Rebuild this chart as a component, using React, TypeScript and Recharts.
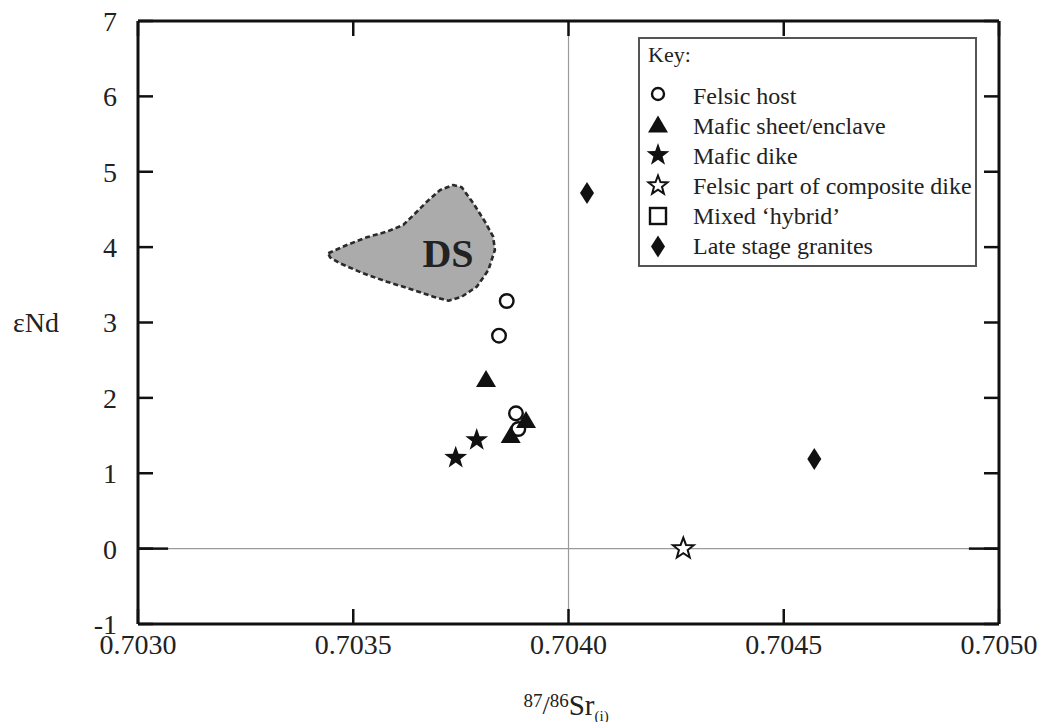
import React from 'react';
import {
  ScatterChart, Scatter, XAxis, YAxis, ReferenceLine, Legend,
} from 'recharts';

const xTicks = [0.703, 0.7035, 0.704, 0.7045, 0.705];
const yTicks = [-1, 0, 1, 2, 3, 4, 5, 6, 7];

const felsicHost = [
  { x: 0.7038565, y: 3.285 },
  { x: 0.7038386, y: 2.825 },
  { x: 0.703878, y: 1.795 },
  { x: 0.7038834, y: 1.587 },
];
const maficSheet = [
  { x: 0.7038084, y: 2.25 },
  { x: 0.7039013, y: 1.707 },
  { x: 0.7038657, y: 1.507 },
];
const maficDike = [
  { x: 0.7037868, y: 1.441 },
  { x: 0.703738, y: 1.206 },
];
const felsicComposite = [{ x: 0.7042667, y: 0.0 }];
const lateGranites = [
  { x: 0.704043, y: 4.718 },
  { x: 0.704571, y: 1.189 },
];
const dsField = [
  { x: 0.703442, y: 3.918 }, { x: 0.703485, y: 4.028 }, { x: 0.703531, y: 4.13 },
  { x: 0.703578, y: 4.205 }, { x: 0.703616, y: 4.294 }, { x: 0.70364, y: 4.426 },
  { x: 0.703671, y: 4.603 }, { x: 0.703702, y: 4.758 }, { x: 0.703732, y: 4.824 },
  { x: 0.703752, y: 4.794 }, { x: 0.703779, y: 4.581 }, { x: 0.703806, y: 4.337 },
  { x: 0.703825, y: 4.138 }, { x: 0.703829, y: 3.962 }, { x: 0.703814, y: 3.697 },
  { x: 0.703787, y: 3.475 }, { x: 0.703752, y: 3.342 }, { x: 0.703721, y: 3.289 },
  { x: 0.703686, y: 3.342 }, { x: 0.70364, y: 3.431 }, { x: 0.703578, y: 3.541 },
  { x: 0.703523, y: 3.653 }, { x: 0.703469, y: 3.785 }, { x: 0.703446, y: 3.865 },
];
const dsLabel = [{ x: 0.70372, y: 3.92, text: 'DS' }];
const frameData = [{ x: 0.703, y: -1 }, { x: 0.705, y: 7 }];
const zeroLineStart = 0.70307;
const zeroLineEnd = 0.70493;

const legendItems = [
  { name: 'Felsic host', sym: 'circle' },
  { name: 'Mafic sheet/enclave', sym: 'triangle' },
  { name: 'Mafic dike', sym: 'star' },
  { name: 'Felsic part of composite dike', sym: 'openstar' },
  { name: 'Mixed \u2018hybrid\u2019', sym: 'square' },
  { name: 'Late stage granites', sym: 'diamond' },
];

const FONT = '"Liberation Serif", "Times New Roman", serif';
const INK = '#111';

function starPts(cx: number, cy: number, R: number, r: number) {
  const pts: string[] = [];
  for (let i = 0; i < 10; i++) {
    const rad = i % 2 === 0 ? R : r;
    const a = -Math.PI / 2 + (i * Math.PI) / 5;
    pts.push(`${cx + rad * Math.cos(a)},${cy + rad * Math.sin(a)}`);
  }
  return pts.join(' ');
}

function Sym({ kind, cx, cy, legend }: { kind: string; cx: number; cy: number; legend?: boolean }) {
  switch (kind) {
    case 'circle':
      return <circle cx={cx} cy={cy} r={legend ? 6 : 6.8} fill="#fff" stroke={INK} strokeWidth={2.4} />;
    case 'triangle':
      return <polygon points={`${cx},${cy - 9} ${cx - 10},${cy + 8} ${cx + 10},${cy + 8}`} fill={INK} />;
    case 'star':
      return <polygon points={starPts(cx, cy, 12, 4.8)} fill={INK} />;
    case 'openstar':
      return <polygon points={starPts(cx, cy, legend ? 10 : 11, legend ? 4.2 : 4.6)} fill="#fff" stroke={INK} strokeWidth={2} strokeLinejoin="miter" />;
    case 'square':
      return <rect x={cx - 8} y={cy - 8} width={16} height={16} fill="#fff" stroke={INK} strokeWidth={2.4} />;
    case 'diamond':
      return <polygon points={`${cx},${cy - 11} ${cx + 7},${cy} ${cx},${cy + 11} ${cx - 7},${cy}`} fill={INK} />;
    default:
      return <g />;
  }
}

const mk = (kind: string) => (p: any) => <Sym kind={kind} cx={p.cx} cy={p.cy} />;
const none = () => <g />;

const polyLine = (p: any) => {
  const pts = p.points || [];
  if (!pts.length) return <g />;
  const d = pts.map((q: any, i: number) => `${i === 0 ? 'M' : 'L'}${q.x},${q.y}`).join(' ') + ' Z';
  return <path d={d} fill="#ababab" stroke="#2a2a2a" strokeWidth={2.6} strokeDasharray="5 3" strokeLinejoin="round" />;
};

const dsText = (p: any) => (
  <text x={p.cx} y={p.cy + 14} textAnchor="middle" fontFamily={FONT} fontWeight="bold" fontSize={40} fill="#222">
    {p.payload?.text}
  </text>
);

const LegendBox = () => (
  <div style={{ width: 339, height: 230, boxSizing: 'border-box', border: '2px solid #555', background: '#fff' }}>
    <svg width={335} height={226} style={{ display: 'block' }}>
      <text x={8} y={23} fontFamily={FONT} fontSize={22} fill="#222">Key:</text>
      {legendItems.map((it, i) => (
        <g key={it.name}>
          <Sym kind={it.sym} cx={18} cy={55 + i * 30.5} legend />
          <text x={53} y={65 + i * 30} fontFamily={FONT} fontSize={24} fill="#222">{it.name}</text>
        </g>
      ))}
    </svg>
  </div>
);

const XLabel = (props: any) => {
  const vb = props.viewBox || { x: 138, width: 861 };
  const sx = vb.x + vb.width / 2 - 45;
  return (
    <text x={sx} y={707} fontFamily={FONT} fill="#222" textAnchor="start">
      <tspan fontSize={19} y={707}>87</tspan>
      <tspan fontSize={26} y={714}>/</tspan>
      <tspan fontSize={19} y={707}>86</tspan>
      <tspan fontSize={29} y={715}>Sr</tspan>
      <tspan fontSize={15} y={721}>(i)</tspan>
    </text>
  );
};

const tickStyle = { fontFamily: FONT, fontSize: 28, fill: '#222' };
const axisLine = { stroke: INK, strokeWidth: 3 };
const tickLine = { stroke: INK, strokeWidth: 2.5 };

export default function App() {
  return (
    <div style={{ position: 'absolute', left: 0, top: 0, width: 1037, height: 722, background: '#fff' }}>
      <ScatterChart width={1037} height={722} margin={{ top: 0, right: 0, bottom: 0, left: 0 }}>
        <XAxis
          xAxisId="b" dataKey="x" type="number" domain={[0.703, 0.705]} ticks={xTicks}
          allowDataOverflow interval={0} orientation="bottom" height={98}
          tickFormatter={(v: number) => v.toFixed(4)} tick={tickStyle}
          tickSize={-15} tickMargin={25} axisLine={axisLine} tickLine={tickLine}
          label={{ content: <XLabel /> }}
        />
        <XAxis
          xAxisId="t" dataKey="x" type="number" domain={[0.703, 0.705]} ticks={xTicks}
          allowDataOverflow interval={0} orientation="top" height={21}
          tickFormatter={() => ''} tickSize={-15} axisLine={axisLine} tickLine={tickLine}
        />
        <YAxis
          yAxisId="l" dataKey="y" type="number" domain={[-1, 7]} ticks={yTicks}
          allowDataOverflow interval={0} orientation="left" width={138}
          tick={tickStyle} tickSize={-15} tickMargin={36} axisLine={axisLine} tickLine={tickLine}
          label={{ value: '\u03b5Nd', position: 'insideLeft', offset: 13, style: { fontFamily: FONT, fontSize: 28, fill: '#222' } }}
        />
        <YAxis
          yAxisId="r" dataKey="y" type="number" domain={[-1, 7]} ticks={yTicks}
          allowDataOverflow interval={0} orientation="right" width={38}
          tickFormatter={() => ''} tickSize={-15} axisLine={axisLine} tickLine={tickLine}
        />
        <ReferenceLine xAxisId="b" yAxisId="l" x={0.704} stroke="#9a9a9a" strokeWidth={1.2} />
        <ReferenceLine xAxisId="b" yAxisId="l" segment={[{ x: zeroLineStart, y: 0 }, { x: zeroLineEnd, y: 0 }]} stroke="#9a9a9a" strokeWidth={1.2} />
        <ReferenceLine xAxisId="b" yAxisId="l" segment={[{ x: 0.703, y: 0 }, { x: zeroLineStart, y: 0 }]} stroke={INK} strokeWidth={2.5} />
        <ReferenceLine xAxisId="b" yAxisId="l" segment={[{ x: zeroLineEnd, y: 0 }, { x: 0.705, y: 0 }]} stroke={INK} strokeWidth={2.5} />
        <Scatter xAxisId="t" yAxisId="r" data={frameData} shape={none} isAnimationActive={false} legendType="none" />
        <Scatter xAxisId="b" yAxisId="l" data={dsField} shape={none} line={polyLine} lineType="joint" isAnimationActive={false} legendType="none" />
        <Scatter xAxisId="b" yAxisId="l" data={dsLabel} shape={dsText} isAnimationActive={false} legendType="none" />
        <Scatter xAxisId="b" yAxisId="l" name="Felsic host" data={felsicHost} shape={mk('circle')} isAnimationActive={false} />
        <Scatter xAxisId="b" yAxisId="l" name="Mafic sheet/enclave" data={maficSheet} shape={mk('triangle')} isAnimationActive={false} />
        <Scatter xAxisId="b" yAxisId="l" name="Mafic dike" data={maficDike} shape={mk('star')} isAnimationActive={false} />
        <Scatter xAxisId="b" yAxisId="l" name="Felsic part of composite dike" data={felsicComposite} shape={mk('openstar')} isAnimationActive={false} />
        <Scatter xAxisId="b" yAxisId="l" name="Late stage granites" data={lateGranites} shape={mk('diamond')} isAnimationActive={false} />
        <Legend
          layout="horizontal" verticalAlign="middle" align="center"
          content={() => <LegendBox />}
          wrapperStyle={{ position: 'absolute', left: 638, top: 37, width: 339, height: 230 }}
        />
      </ScatterChart>
    </div>
  );
}
